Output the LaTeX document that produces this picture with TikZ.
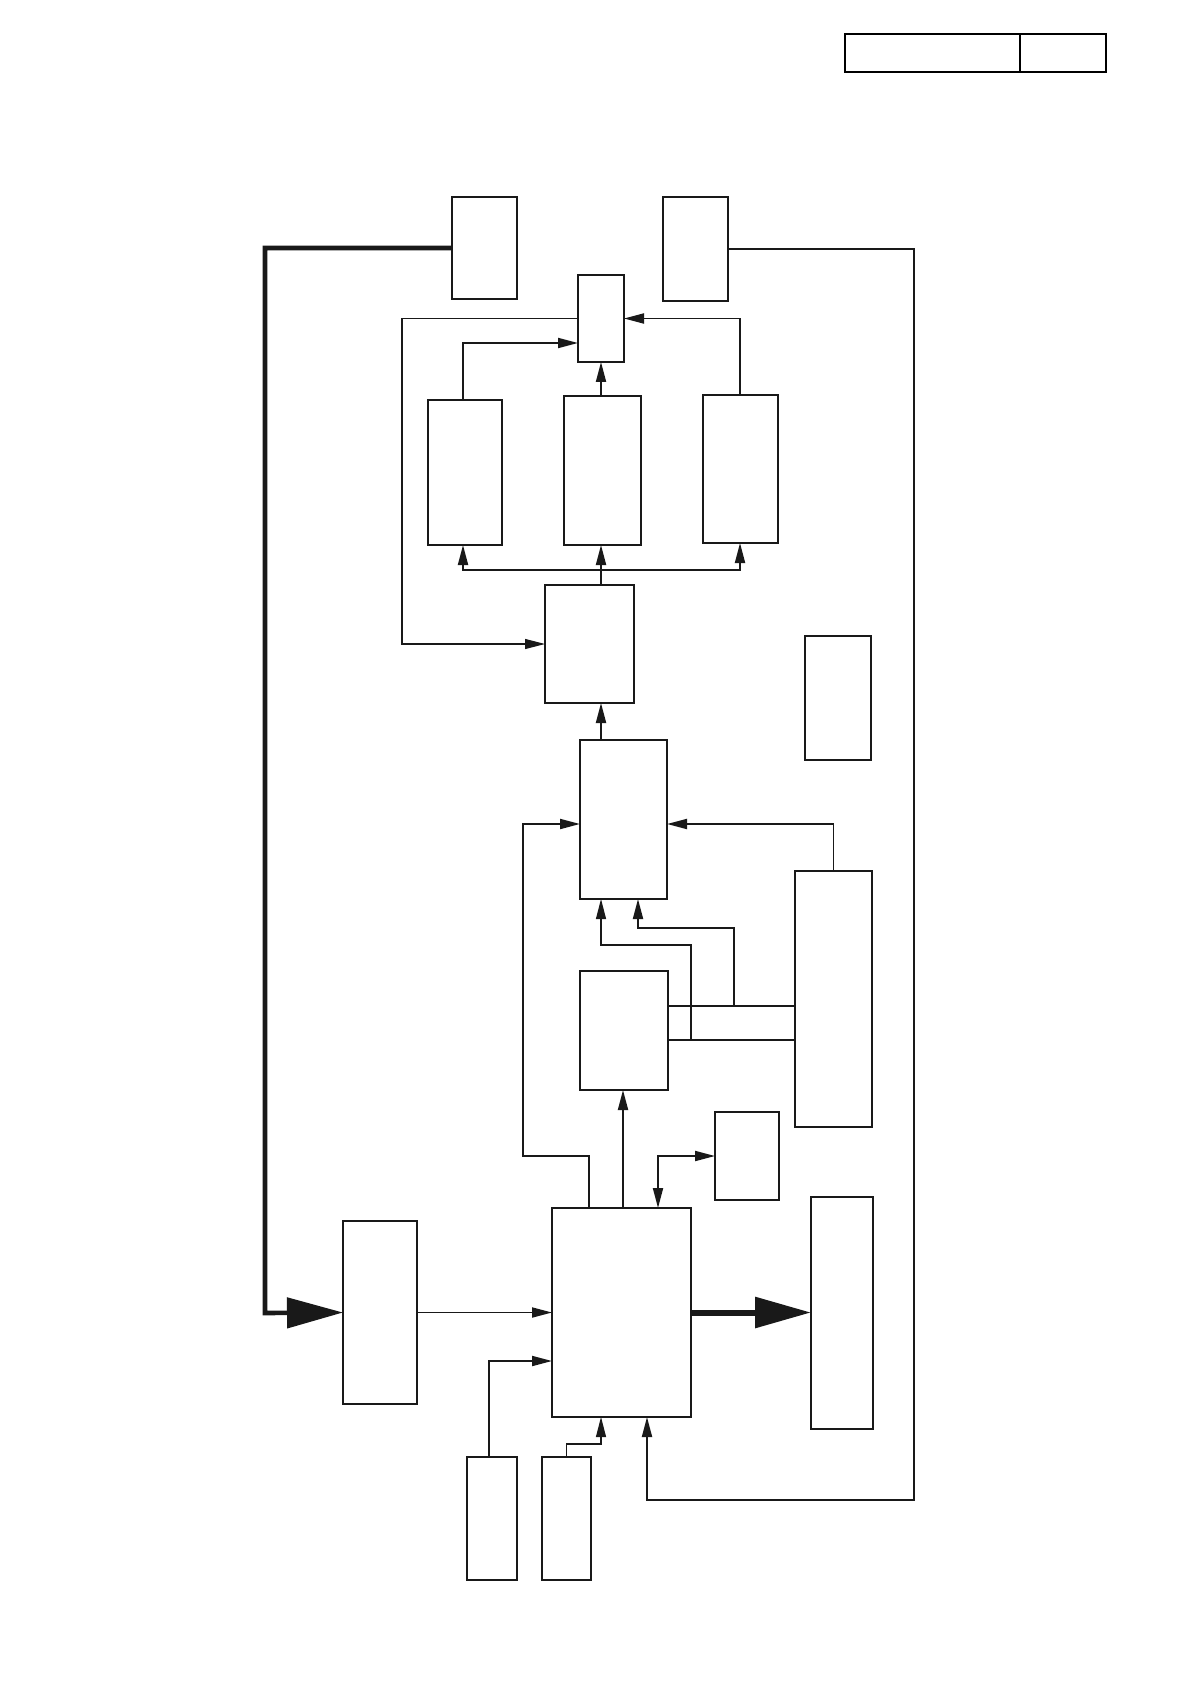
\documentclass[tikz,border=0pt]{standalone}
\usepackage{tikz}
\usetikzlibrary{arrows.meta,positioning}
\tikzset{
  blk/.style={draw=black!90, line width=1.15pt, rectangle, inner sep=0pt, outer sep=0pt, anchor=north west},
  hdr/.style={draw=black, line width=0.6pt, rectangle, inner sep=0pt, outer sep=0pt, anchor=north west, minimum height=19pt},
  flow/.style={-{Triangle[length=10pt,width=5pt]}, line width=0.95pt, black!90},
  wire/.style={line width=0.95pt, black!90},
  fine/.style={line width=0.55pt, black!90},
  bigflow/.style={-{Triangle[length=28pt,width=15pt]}, black!90},
}
\begin{document}
\begin{tikzpicture}[x=0.5pt, y=-0.5pt]
        \useasboundingbox (0,0) rectangle (1190,1684);
        \node[hdr, minimum width=87.5pt] (hl) at (845,34) {};
        \node[hdr, minimum width=43pt] (hr) at (1020,34) {};
        \node[blk, minimum width=32.5pt, minimum height=51pt]   (inA) at (452,197) {};
        \node[blk, minimum width=32.5pt, minimum height=52pt]   (inB) at (663,197) {};
        \node[blk, minimum width=23pt,   minimum height=43.5pt] (mux) at (578,275) {};
        \node[blk, minimum width=37pt,   minimum height=72.5pt] (ch1) at (428,400) {};
        \node[blk, minimum width=38.5pt, minimum height=74.5pt] (ch2) at (564,396) {};
        \node[blk, minimum width=37.5pt, minimum height=74pt]   (ch3) at (703,395) {};
        \node[blk, minimum width=44.5pt, minimum height=59pt]   (drv) at (545,585) {};
        \node[blk, minimum width=33pt,   minimum height=62pt]   (aux) at (805,636) {};
        \node[blk, minimum width=43.5pt, minimum height=79.5pt] (ctl) at (580,740) {};
        \node[blk, minimum width=38.5pt, minimum height=128pt]  (reg) at (795,871) {};
        \node[blk, minimum width=44pt,   minimum height=59.5pt] (mem) at (580,971) {};
        \node[blk, minimum width=32pt,   minimum height=44pt]   (adc) at (715,1112) {};
        \node[blk, minimum width=69.5pt, minimum height=104.5pt] (cpu) at (552,1208) {};
        \node[blk, minimum width=37pt,   minimum height=91.5pt] (pwr) at (343,1221) {};
        \node[blk, minimum width=31pt,   minimum height=116pt]  (out) at (811,1197) {};
        \node[blk, minimum width=25pt,   minimum height=61.5pt] (sw1) at (467,1457) {};
        \node[blk, minimum width=24.5pt, minimum height=61.5pt] (sw2) at (542,1457) {};
        \coordinate (bus) at (601,570);
        \draw[bigflow, line width=2.3pt] (inA.west) -| (265,1313) -- (pwr.west);
        \draw[flow] (inB.east) -| (914,1500) -| (cpu.south -| 647,0);
        \draw[fine, -{Triangle[length=10pt,width=5pt]}] (mux.west) -| (402,644) -- (drv.west);
        \draw[flow] (ch1.north -| 463,0) |- (mux.west |- 0,343);
        \draw[flow] (ch2.north -| 601,0) -- (mux.south -| 601,0);
        \draw[flow] (ch3.north -| 740,0) |- (mux.east);
        \draw[wire] (drv.north -| bus) -- (bus);
        \draw[flow] (bus) -| (ch1.south -| 463,0);
        \draw[flow] (bus) -- (ch2.south -| bus);
        \draw[flow] (bus) -| (ch3.south -| 740,0);
        \draw[flow] (ctl.north -| bus) -- (drv.south -| bus);
        \draw[flow] (cpu.north -| 589,0) |- (523,1156) |- (ctl.west |- 0,824);
        \draw[flow] (reg.north) |- (ctl.east |- 0,824);
        \draw[wire] (mem.east |- 0,1006) -- (reg.west |- 0,1006);
        \draw[fine] (mem.east |- 0,1040) -- (reg.west |- 0,1040);
        \draw[flow] (734,1006) |- (638,928) -- (ctl.south -| 638,0);
        \draw[fine, -{Triangle[length=10pt,width=5pt]}] (691,1040) |- (601,945) -- (ctl.south -| 601,0);
        \draw[flow] (cpu.north -| 623,0) -- (mem.south -| 623,0);
        \draw[flow, {Triangle[length=10pt,width=5pt]}-{Triangle[length=10pt,width=5pt]}] (cpu.north -| 658,0) |- (adc.west);
        \draw[flow] (pwr.east) -- (cpu.west |- pwr.east);
        \draw[bigflow, line width=3pt] (cpu.east) -- (out.west |- cpu.east);
        \draw[flow] (sw1.north -| 489,0) |- (cpu.west |- 0,1361);
        \draw[fine, -{Triangle[length=10pt,width=5pt]}] (sw2.north) |- (601,1444) -- (cpu.south -| 601,0);
      \end{tikzpicture}
\end{document}
